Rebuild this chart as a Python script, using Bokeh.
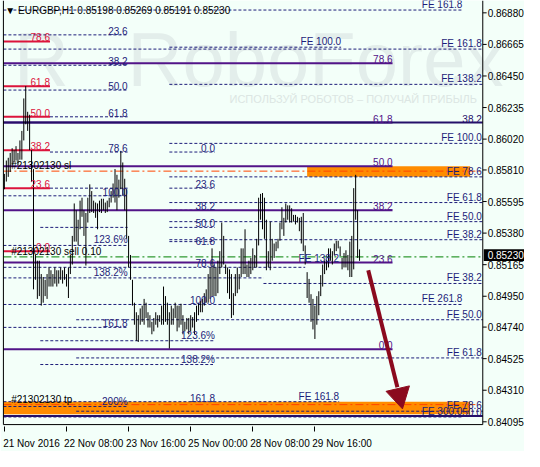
import math
from bokeh.plotting import figure
from bokeh.models import FixedTicker
from bokeh.core.properties import value
from bokeh.embed import file_html
from bokeh.resources import INLINE

# ---------------- data ----------------
time_ticks = [0, 32, 64, 96, 128, 160]
time_labels = ["21 Nov 2016", "22 Nov 08:00", "23 Nov 16:00", "25 Nov 00:00",
               "28 Nov 08:00", "29 Nov 16:00"]
price_ticks = [0.86880, 0.86665, 0.86450, 0.86235, 0.86020, 0.85810, 0.85595,
               0.85380, 0.85165, 0.84950, 0.84740, 0.84525, 0.84310, 0.84095]
price_tick_labels = ["0.86880", "0.86665", "0.86450", "0.86235", "0.86020", "0.85810", "0.85595",
                     "0.85380", "0.85165", "0.84950", "0.84740", "0.84525", "0.84310", "0.84095"]

highs = [0.85783, 0.85874, 0.85893, 0.85926, 0.85958, 0.85945, 0.85972, 0.85926, 0.86011, 0.86076,
         0.86297, 0.86381, 0.86206, 0.86186, 0.85945, 0.85816, 0.85231, 0.85192, 0.85192, 0.85101,
         0.85081, 0.85062, 0.85101, 0.85146, 0.85127, 0.85101, 0.85146, 0.85127, 0.85127, 0.85146,
         0.85127, 0.85146, 0.85101, 0.85146, 0.85231, 0.85361, 0.85582, 0.85536, 0.85471, 0.85601,
         0.85621, 0.85536, 0.85517, 0.85621, 0.85712, 0.85666, 0.85601, 0.85588, 0.85582, 0.85601,
         0.85614, 0.85614, 0.85588, 0.85601, 0.85621, 0.85666, 0.85718, 0.85816, 0.85777, 0.85744,
         0.85939, 0.85861, 0.85750, 0.85679, 0.85361, 0.85231, 0.85062, 0.84906, 0.84841, 0.84821,
         0.84867, 0.84886, 0.84932, 0.84906, 0.84841, 0.84821, 0.84776, 0.84802, 0.84841, 0.84821,
         0.84821, 0.84886, 0.85016, 0.84951, 0.84906, 0.84841, 0.84886, 0.84867, 0.84906, 0.84886,
         0.84886, 0.84899, 0.84821, 0.84776, 0.84802, 0.84802, 0.84821, 0.84808, 0.84841, 0.84886,
         0.84906, 0.84919, 0.84932, 0.84971, 0.84997, 0.85101, 0.85146, 0.85276, 0.85166, 0.85146,
         0.85192, 0.85257, 0.85452, 0.85361, 0.85166, 0.85146, 0.85133, 0.85101, 0.84971, 0.85101,
         0.85146, 0.85101, 0.85276, 0.85276, 0.85406, 0.85166, 0.85192, 0.85211, 0.85276, 0.85231,
         0.85341, 0.85621, 0.85647, 0.85653, 0.85621, 0.85471, 0.85257, 0.85458, 0.85341, 0.85309,
         0.85322, 0.85341, 0.85452, 0.85556, 0.85484, 0.85582, 0.85569, 0.85569, 0.85549, 0.85504,
         0.85504, 0.85491, 0.85484, 0.85491, 0.85517, 0.85296, 0.85114, 0.85068, 0.84964, 0.84932,
         0.84886, 0.84951, 0.84984, 0.85094, 0.85166, 0.85192, 0.85198, 0.85276, 0.85276, 0.85257,
         0.85309, 0.85328, 0.85328, 0.85289, 0.85211, 0.85244, 0.85263, 0.85231, 0.85322, 0.85361,
         0.85686, 0.85777, 0.85536, 0.85269]
lows = [0.85679, 0.85731, 0.85763, 0.85796, 0.85841, 0.85861, 0.85874, 0.85841, 0.85880, 0.85880,
        0.86011, 0.86121, 0.86076, 0.85945, 0.85731, 0.84997, 0.85062, 0.84932, 0.84951, 0.84886,
        0.84906, 0.84951, 0.84932, 0.85016, 0.85016, 0.85016, 0.85036, 0.85016, 0.85036, 0.85062,
        0.85036, 0.85062, 0.85016, 0.84938, 0.85101, 0.85166, 0.85322, 0.85322, 0.85296, 0.85406,
        0.85491, 0.85361, 0.85159, 0.85452, 0.85517, 0.85523, 0.85517, 0.85484, 0.85406, 0.85523,
        0.85517, 0.85536, 0.85517, 0.85523, 0.85556, 0.85588, 0.85621, 0.85588, 0.85536, 0.85621,
        0.85679, 0.85634, 0.85536, 0.85341, 0.85146, 0.85062, 0.84886, 0.84756, 0.84646, 0.84639,
        0.84756, 0.84776, 0.84756, 0.84802, 0.84737, 0.84737, 0.84691, 0.84711, 0.84756, 0.84737,
        0.84776, 0.84756, 0.84756, 0.84776, 0.84756, 0.84594, 0.84756, 0.84756, 0.84802, 0.84711,
        0.84737, 0.84756, 0.84691, 0.84711, 0.84724, 0.84691, 0.84711, 0.84737, 0.84691, 0.84776,
        0.84821, 0.84841, 0.84841, 0.84886, 0.84906, 0.84906, 0.84932, 0.84951, 0.84951, 0.84951,
        0.84971, 0.85101, 0.85146, 0.85166, 0.85101, 0.84971, 0.84932, 0.84802, 0.84821, 0.84951,
        0.84971, 0.84997, 0.85081, 0.85101, 0.85101, 0.85081, 0.85081, 0.85101, 0.85127, 0.85146,
        0.85146, 0.85296, 0.85471, 0.85406, 0.85341, 0.85127, 0.85146, 0.85127, 0.85192, 0.85211,
        0.85257, 0.85276, 0.85328, 0.85406, 0.85361, 0.85452, 0.85471, 0.85452, 0.85452, 0.85458,
        0.85439, 0.85452, 0.85393, 0.85309, 0.85257, 0.85166, 0.84938, 0.84906, 0.84776, 0.84724,
        0.84659, 0.84756, 0.84821, 0.84951, 0.85016, 0.85101, 0.85127, 0.85146, 0.85192, 0.85166,
        0.85231, 0.85257, 0.85276, 0.85224, 0.85133, 0.85146, 0.85146, 0.85127, 0.85081, 0.85081,
        0.85133, 0.85471, 0.85211, 0.85191]
bar_index = list(range(len(highs)))

# dashed fibo / expansion levels
dash_price = [0.86899, 0.86730, 0.86633, 0.86646, 0.86523, 0.86393, 0.86354, 0.86172, 0.85991,
              0.85932, 0.85932, 0.85763, 0.85686, 0.85686, 0.85634, 0.85588, 0.85536, 0.85458,
              0.85419, 0.85419, 0.85335, 0.85296, 0.85322, 0.85147, 0.85075, 0.85037, 0.84894,
              0.84790, 0.84738, 0.84647, 0.84530, 0.84485, 0.84232, 0.84199, 0.84167, 0.84128]
dash_start = [-0.5, -0.5, -0.5, 85, -0.5, 85, -0.5, 23.5, 85, 23.5, 85, 85, 23.5, 85, -0.5, 85,
              85, 85, 18.5, 85, 85, -0.5, 85, -0.5, -0.5, 133.5, -0.5, 37, -0.5, 18.5, 37, 18.5,
              -0.5, -0.5, 37, -0.5]
dash_end = [236, 63.5, 246.5, 173.5, 63.5, 246.5, 63.5, 63.5, 246.5, 63.5, 108.5, 246.5, 63.5,
            108.5, 63.5, 246.5, 108.5, 246.5, 63.5, 108.5, 246.5, 63.5, 108.5, 155, 133.5, 246.5,
            236, 246.5, 63.5, 108.5, 246.5, 107.5, 172.5, 63.5, 246.5, 236]

fib_text = ["FE 161.8", "23.6", "FE 161.8", "FE 100.0", "38.2", "FE 138.2", "50.0", "61.8",
            "FE 100.0", "78.6", "0.0", "FE 78.6", "23.6", "100.0", "FE 61.8", "38.2", "FE 50.0",
            "50.0", "FE 38.2", "61.8", "123.6%", "FE 138.2", "78.6", "138.2%", "FE 38.2",
            "FE 261.8", "100.0", "FE 50.0", "161.8", "123.6%", "FE 61.8", "138.2%", "161.8",
            "FE 161.8", "200%", "FE 78.6", "FE 300.0"]
fib_x = [236, 63.5, 246, 173.5, 63.5, 246, 63.5, 63.5, 246, 63.5, 108.5, 246, 108.5,
         63.5, 246, 108.5, 246, 108.5, 246, 108.5, 63.5, 172.5, 108.5, 63.5, 246, 236,
         108.5, 246, 63.5, 108.5, 246, 108.5, 108.5, 172.5, 63.5, 246, 236]
fib_y = [0.86899, 0.86730, 0.86633, 0.86646, 0.86523, 0.86393, 0.86354, 0.86172, 0.85991,
         0.85932, 0.85932, 0.85763, 0.85686, 0.85634, 0.85588, 0.85536, 0.85458, 0.85419,
         0.85335, 0.85296, 0.85296, 0.85173, 0.85147, 0.85075, 0.85037, 0.84894, 0.84894,
         0.84790, 0.84738, 0.84647, 0.84530, 0.84485, 0.84232, 0.84232, 0.84199, 0.84167,
         0.84128]

red_levels = [0.86685, 0.86380, 0.86172, 0.85945, 0.85686, 0.85257]
red_text = ["78.6", "61.8", "50.0", "38.2", "23.6", "0.0"]
red_end = 23.5
purple_levels = [0.86536, 0.86133, 0.85835, 0.85536, 0.85179, 0.84589]
purple_text = ["78.6", "61.8", "50.0", "38.2", "23.6", "0.0"]
purple_end = 200
navy_levels = [0.86133, 0.84134]
navy_text = ["38.2", "50.0"]

band_left = [156, -0.5]
band_right = [240, 240]
band_bottom = [0.85763, 0.84147]
band_top = [0.85835, 0.84232]

order_prices = [0.85802, 0.85218, 0.84212]
order_text = ["#21302130 sl", "#21302130 sell 0.10", "#21302130 tp"]
order_colors = ["#FF4500", "#008000", "#FF4500"]

header_text = "\u25bc EURGBP,H1  0.85198 0.85269 0.85191 0.85230"
header_price = 0.86893
last_price = 0.85230
last_price_text = "0.85230"
arrow_from = (187.5, 0.85127)
arrow_neck = (202.5, 0.84330)
arrow_head = (203.5, 0.84275)

watermark_text = ["R", "RoboForex"]
watermark_x = [5, 63.5]
watermark_price = 0.86275
slogan_text = "ИСПОЛЬЗУЙ РОБОТОВ – ПОЛУЧАЙ ПРИБЫЛЬ"
slogan_x, slogan_price = 116, 0.86296

# chart geometry (bar-index / price space)
x_lo, x_hi = -2, 268          # whole canvas width
frame_l, frame_r = -0.5, 246.5  # terminal chart frame
y_lo, y_hi = 0.84063, 0.86964
frame_bottom = 0.84076

# ---------------- style ----------------
BG = "#F3FFF9"
NAVY = "#1d1d7a"
PURPLE = "#521488"
NAVY_SOLID = "#25106A"
RED = "#DC143C"
ARROW = "#8B0A1E"
FONT = "Liberation Sans"
FS = "10px"

p = figure(width=524, height=451, x_range=(x_lo, x_hi), y_range=(y_lo, y_hi),
           output_backend="svg", toolbar_location=None,
           min_border_left=0, min_border_top=0, min_border_bottom=19, min_border_right=0)
p.grid.visible = False
p.yaxis.visible = False
p.background_fill_color = BG
p.border_fill_color = BG
p.outline_line_color = None

# time axis: tick marks at the bar positions, labels starting at each tick
label_shift = 14
p.xaxis.ticker = FixedTicker(ticks=[t + label_shift for t in time_ticks], minor_ticks=time_ticks)
p.xaxis.major_label_overrides = {t + label_shift: s for t, s in zip(time_ticks, time_labels)}
p.xaxis.major_tick_out = 0
p.xaxis.major_tick_in = 0
p.xaxis.minor_tick_out = 5
p.xaxis.minor_tick_in = 0
p.xaxis.minor_tick_line_color = "black"
p.xaxis.axis_line_color = None
p.xaxis.major_label_standoff = 6
p.xaxis.major_label_text_font = FONT
p.xaxis.major_label_text_font_size = "10px"
p.xaxis.major_label_text_color = "black"

# watermark
p.text(x=watermark_x, y=[watermark_price] * 2, text=watermark_text,
       text_font=value(FONT), text_font_size="76px",
       text_color="#E3EEEB", text_baseline="bottom")
p.text(x=[slogan_x], y=[slogan_price], text=[slogan_text],
       text_font=value(FONT), text_font_size="11px", text_color="#DCE6E3",
       text_baseline="middle")

# orange bands
p.quad(left=band_left, right=band_right, bottom=band_bottom, top=band_top,
       fill_color="#FF8C00", line_alpha=0)

# dashed levels
p.segment(x0=dash_start, y0=dash_price, x1=dash_end, y1=dash_price,
          line_color=NAVY, line_width=1, line_dash="3 2")

# order lines
p.segment(x0=[frame_l] * 3, y0=order_prices, x1=[frame_r] * 3, y1=order_prices,
          line_color=order_colors, line_width=1, line_dash="8 3 2 3")

# solid levels
p.segment(x0=[frame_l] * len(red_levels), y0=red_levels, x1=[red_end] * len(red_levels),
          y1=red_levels, line_color=RED, line_width=2)
p.segment(x0=[frame_l] * len(purple_levels), y0=purple_levels,
          x1=[purple_end] * len(purple_levels), y1=purple_levels, line_color=PURPLE, line_width=2)
p.segment(x0=[frame_l] * len(navy_levels), y0=navy_levels, x1=[frame_r] * len(navy_levels),
          y1=navy_levels, line_color=NAVY_SOLID, line_width=2)

# price bars
p.segment(x0=bar_index, y0=lows, x1=bar_index, y1=highs, line_color="black", line_width=1)

# level labels
txt = dict(text_font=value(FONT), text_font_size=FS, text_baseline="bottom")
p.text(x=fib_x, y=fib_y, text=fib_text, text_color=NAVY, text_align="right", **txt)
p.text(x=[red_end] * len(red_levels), y=red_levels, text=red_text, text_color=RED,
       text_align="right", **txt)
p.text(x=[purple_end] * len(purple_levels), y=purple_levels, text=purple_text,
       text_color=PURPLE, text_align="right", **txt)
p.text(x=[frame_r - 0.5] * len(navy_levels), y=navy_levels, text=navy_text,
       text_color=NAVY_SOLID, text_align="right", **txt)
p.text(x=[3.5] * 3, y=order_prices, text=order_text, text_color="black", text_align="left", **txt)

# forecast arrow
p.segment(x0=[arrow_from[0]], y0=[arrow_from[1]], x1=[arrow_neck[0]], y1=[arrow_neck[1]],
          line_color=ARROW, line_width=4)
p.scatter(x=[arrow_head[0]], y=[arrow_head[1]], marker="triangle", size=24,
          angle=math.pi + 0.23, fill_color=ARROW, line_color=ARROW)

# frame: left border, bottom border, right (price) axis line
p.segment(x0=[frame_l, frame_l, frame_r], y0=[frame_bottom, frame_bottom, frame_bottom],
          x1=[frame_l, frame_r, frame_r], y1=[y_hi, frame_bottom, y_hi],
          line_color="black", line_width=1)

# price scale ticks and labels
p.segment(x0=[frame_r] * len(price_ticks), y0=price_ticks, x1=[frame_r + 2] * len(price_ticks),
          y1=price_ticks, line_color="black", line_width=1)
p.text(x=[frame_r + 2.5] * len(price_ticks), y=price_ticks, text=price_tick_labels,
       text_font=value(FONT), text_font_size=FS, text_color="black", text_align="left",
       text_baseline="middle")

# last price box
p.quad(left=[frame_r + 0.5], right=[x_hi], bottom=[last_price - 0.0004], top=[last_price + 0.0004],
       fill_color="black", line_alpha=0)
p.text(x=[frame_r + 2.5], y=[last_price], text=[last_price_text], text_font=value(FONT),
       text_font_size=FS, text_color="white", text_align="left", text_baseline="middle")

# header
p.text(x=[0.5], y=[header_price], text=[header_text], text_font=value(FONT),
       text_font_size=FS, text_color="black", text_align="left", text_baseline="middle")

open("out.html", "w").write(file_html(p, INLINE))
